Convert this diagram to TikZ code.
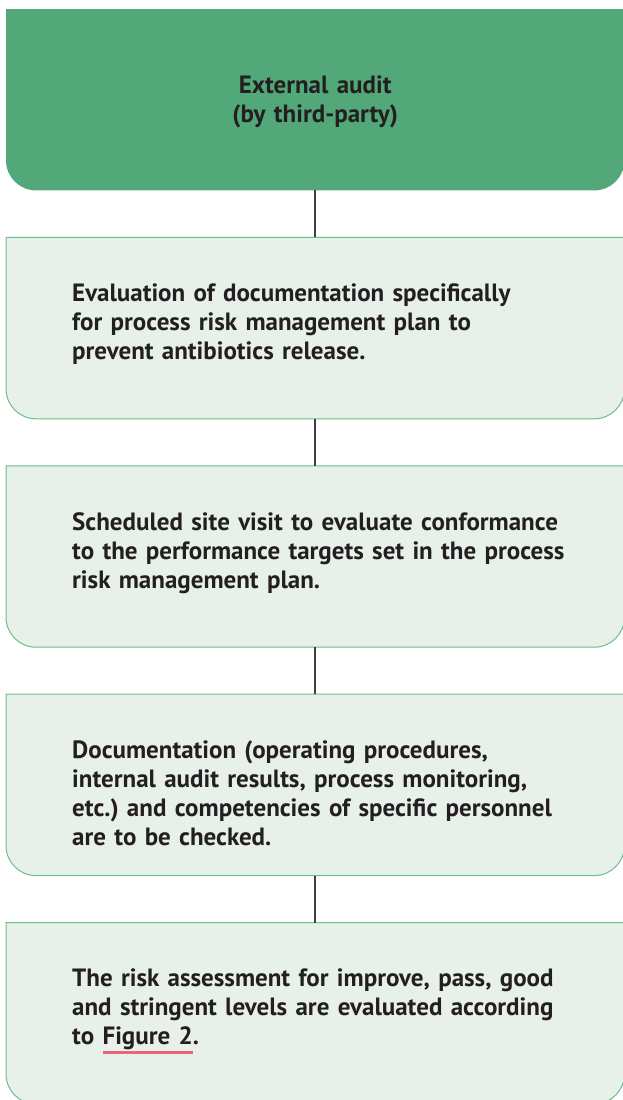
\documentclass[tikz,border=0pt]{standalone}
\usepackage{fontspec}
\setmainfont{PT Sans}
\usetikzlibrary{positioning,backgrounds}
\definecolor{headgreen}{RGB}{82,168,120}
\definecolor{stepfill}{RGB}{232,240,234}
\definecolor{stepedge}{RGB}{108,190,140}
\definecolor{linkgray}{RGB}{64,64,64}
\definecolor{inkblack}{RGB}{35,31,32}
\definecolor{linkpink}{RGB}{232,101,122}

% underlined cross reference
\newcommand{\figlink}[1]{\setbox0\hbox{#1}\rlap{\textcolor{linkpink}{\rule[-9pt]{\wd0}{2.4pt}}}\box0}

% card outline: square top, rounded bottom corners
\newcommand{\cardpath}[2]{%
  \path[#2] (#1.north west) -- (#1.north east)
    -- ([yshift=30pt]#1.south east) arc[start angle=0,end angle=-90,radius=30pt]
    -- ([xshift=30pt]#1.south west) arc[start angle=270,end angle=180,radius=30pt]
    -- cycle;}

\begin{document}
\begin{tikzpicture}[x=1pt,y=-1pt,
  font=\fontsize{25}{29}\selectfont\bfseries\frenchspacing,
  headbox/.style={text width=486pt, align=center, inner xsep=66pt, inner ysep=0pt,
    text height=84pt, text depth=97pt, text=inkblack},
  stepbox/.style={text width=486pt, align=left, inner xsep=66pt, inner ysep=0pt,
    text height=64pt, text depth=117pt, text=inkblack},
  link/.style={draw=linkgray, line width=2pt},
  node distance=47pt]

\useasboundingbox (0,0) rectangle (622,1100);

% ---------- boxes ----------
\node[headbox, anchor=north west] (audit) at (6,9) {External audit\\(by third-party)};
\node[stepbox, below=of audit] (evaldoc)
  {Evaluation of documentation specifically\\
   for process risk management plan to\\
   prevent antibiotics release.};
\node[stepbox, below=of evaldoc] (sitevisit)
  {Scheduled site visit to evaluate conformance\\
   \mbox{to the performance targets set in the process}\\
   risk management plan.};
\node[stepbox, below=of sitevisit] (doccheck)
  {Documentation (operating procedures,\\
   internal audit results, process monitoring,\\
   etc.) and competencies of specific personnel\\
   are to be checked.};
\node[stepbox, below=of doccheck] (riskassess)
  {The risk assessment for improve, pass, good\\
   and stringent levels are evaluated according\\
   to \figlink{Figure 2}.};

\begin{scope}[on background layer]
  \cardpath{audit}{fill=headgreen}
  \foreach \n in {evaldoc,sitevisit,doccheck,riskassess}
    {\cardpath{\n}{fill=stepfill, draw=stepedge, line width=1pt}}
\end{scope}

% ---------- links ----------
\draw[link] (audit) -- (evaldoc);
\draw[link] (evaldoc) -- (sitevisit);
\draw[link] (sitevisit) -- (doccheck);
\draw[link] (doccheck) -- (riskassess);

\end{tikzpicture}
\end{document}
